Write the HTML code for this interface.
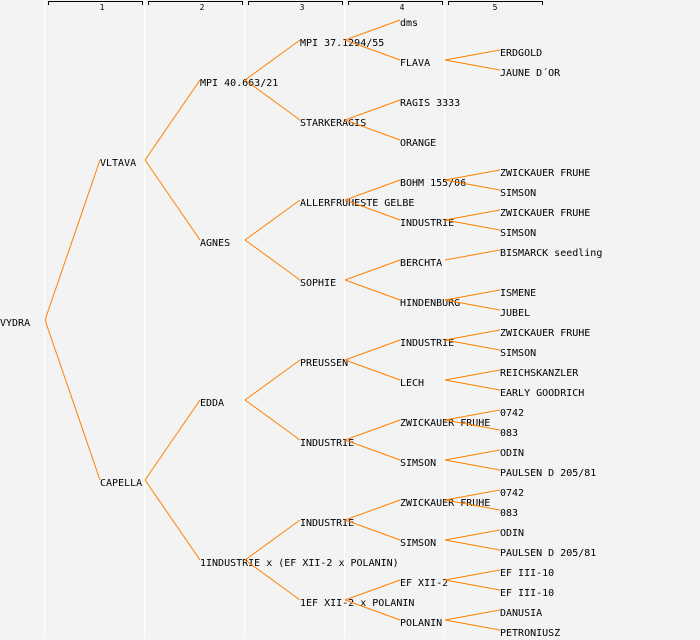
<!DOCTYPE html>
<html><head><meta charset="utf-8"><style>
html,body{margin:0;padding:0;background:#f3f3f3;}
svg{display:block}
</style></head><body>
<svg width="700" height="640" viewBox="0 0 700 640" xmlns="http://www.w3.org/2000/svg">
<rect width="700" height="640" fill="#f3f3f3"/>
<g stroke="#fff" stroke-width="1.2">
<line x1="44.5" y1="0" x2="44.5" y2="638"/><line x1="144.5" y1="0" x2="144.5" y2="638"/><line x1="244.5" y1="0" x2="244.5" y2="638"/><line x1="344.5" y1="0" x2="344.5" y2="638"/><line x1="444.5" y1="0" x2="444.5" y2="638"/>
</g>
<g fill="none" stroke="#000" stroke-width="1">
<path d="M48.5 5V1.5H142.5V5"/><path d="M148.5 5V1.5H242.5V5"/><path d="M248.5 5V1.5H342.5V5"/><path d="M348.5 5V1.5H442.5V5"/><path d="M448.5 5V1.5H542.5V5"/>
</g>
<g font-family="DejaVu Sans Mono, Liberation Mono, monospace" font-size="8" text-anchor="middle" fill="#000">
<text x="102" y="10">1</text><text x="202" y="10">2</text><text x="302" y="10">3</text><text x="402" y="10">4</text><text x="495" y="10">5</text>
</g>
<g font-family="DejaVu Sans Mono, Liberation Mono, monospace" font-size="10" fill="#000">
<text x="0" y="326">VYDRA</text>
<text x="100" y="166">VLTAVA</text><text x="100" y="486">CAPELLA</text>
<text x="200" y="86">MPI 40.663/21</text><text x="200" y="246">AGNES</text><text x="200" y="406">EDDA</text><text x="200" y="566">1INDUSTRIE x (EF XII-2 x POLANIN)</text>
<text x="300" y="46">MPI 37.1294/55</text><text x="300" y="126">STARKERAGIS</text><text x="300" y="206">ALLERFRUHESTE GELBE</text><text x="300" y="286">SOPHIE</text><text x="300" y="366">PREUSSEN</text><text x="300" y="446">INDUSTRIE</text><text x="300" y="526">INDUSTRIE</text><text x="300" y="606">1EF XII-2 x POLANIN</text>
<text x="400" y="26">dms</text><text x="400" y="66">FLAVA</text><text x="400" y="106">RAGIS 3333</text><text x="400" y="146">ORANGE</text><text x="400" y="186">BOHM 155/06</text><text x="400" y="226">INDUSTRIE</text><text x="400" y="266">BERCHTA</text><text x="400" y="306">HINDENBURG</text><text x="400" y="346">INDUSTRIE</text><text x="400" y="386">LECH</text><text x="400" y="426">ZWICKAUER FRUHE</text><text x="400" y="466">SIMSON</text><text x="400" y="506">ZWICKAUER FRUHE</text><text x="400" y="546">SIMSON</text><text x="400" y="586">EF XII-2</text><text x="400" y="626">POLANIN</text>
<text x="500" y="56">ERDGOLD</text><text x="500" y="76">JAUNE D´OR</text>
<text x="500" y="176">ZWICKAUER FRUHE</text><text x="500" y="196">SIMSON</text>
<text x="500" y="216">ZWICKAUER FRUHE</text><text x="500" y="236">SIMSON</text>
<text x="500" y="256">BISMARCK seedling</text>
<text x="500" y="296">ISMENE</text><text x="500" y="316">JUBEL</text>
<text x="500" y="336">ZWICKAUER FRUHE</text><text x="500" y="356">SIMSON</text>
<text x="500" y="376">REICHSKANZLER</text><text x="500" y="396">EARLY GOODRICH</text>
<text x="500" y="416">0742</text><text x="500" y="436">083</text>
<text x="500" y="456">ODIN</text><text x="500" y="476">PAULSEN D 205/81</text>
<text x="500" y="496">0742</text><text x="500" y="516">083</text>
<text x="500" y="536">ODIN</text><text x="500" y="556">PAULSEN D 205/81</text>
<text x="500" y="576">EF III-10</text><text x="500" y="596">EF III-10</text>
<text x="500" y="616">DANUSIA</text><text x="500" y="636">PETRONIUSZ</text>
</g>
<g fill="none" stroke="#ff8000" stroke-width="1">
<path d="M45 320L100 160M45 320L100 480"/>
<path d="M145 160L200 80M145 160L200 240M145 480L200 400M145 480L200 560"/>
<path d="M245 80L300 40M245 80L300 120M245 240L300 200M245 240L300 280M245 400L300 360M245 400L300 440M245 560L300 520M245 560L300 600"/>
<path d="M345 40L400 20M345 40L400 60M345 120L400 100M345 120L400 140M345 200L400 180M345 200L400 220M345 280L400 260M345 280L400 300M345 360L400 340M345 360L400 380M345 440L400 420M345 440L400 460M345 520L400 500M345 520L400 540M345 600L400 580M345 600L400 620"/>
<path d="M445 60L500 50M445 60L500 70M445 180L500 170M445 180L500 190M445 220L500 210M445 220L500 230M445 260L500 250M445 300L500 290M445 300L500 310M445 340L500 330M445 340L500 350M445 380L500 370M445 380L500 390M445 420L500 410M445 420L500 430M445 460L500 450M445 460L500 470M445 500L500 490M445 500L500 510M445 540L500 530M445 540L500 550M445 580L500 570M445 580L500 590M445 620L500 610M445 620L500 630"/>
</g>
</svg>
</body></html>
